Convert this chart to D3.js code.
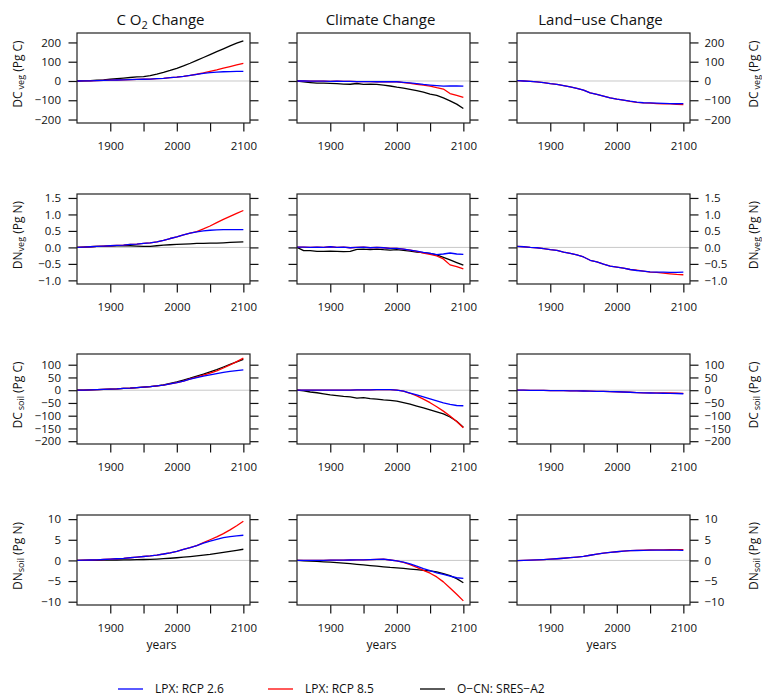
<!DOCTYPE html>
<html>
<head>
<meta charset="utf-8">
<script src="https://cdn.jsdelivr.net/npm/d3@7"></script>
<style>
  body { margin: 0; background: #fff; }
  text { font-family: "Open Sans", "Noto Sans", sans-serif; fill: #111; }
</style>
</head>
<body>
<div id="chart"></div>
<script>
// years of the model output (every 10 yr)
const years = [1850, 1860, 1870, 1880, 1890, 1900, 1910, 1920, 1930, 1940, 1950, 1960, 1970,
  1980, 1990, 2000, 2010, 2020, 2030, 2040, 2050, 2060, 2070, 2080, 2090, 2100]

const columnTitles = ["CO2", "Climate Change", "Land\u2212use Change"]
const rowLabels = [["DC", "veg", "(Pg C)"], ["DN", "veg", "(Pg N)"], ["DC", "soil", "(Pg C)"], ["DN", "soil", "(Pg N)"]]
const rowDomains = [[-218, 249], [-1.11, 1.62], [-211, 142], [-10.8, 11]]
const rowTicks = [[-200, -100, 0, 100, 200], [-1, -0.5, 0, 0.5, 1, 1.5],
  [-200, -150, -100, -50, 0, 50, 100], [-10, -5, 0, 5, 10]]
const xTicks = [1900, 1950, 2000, 2050, 2100]
const xLabels = [1900, 2000, 2100]
const legendLabels = ["LPX: RCP 2.6", "LPX: RCP 8.5", "O\u2212CN: SRES\u2212A2"]

// row 1: vegetation carbon
const cvegCO2_26 = [0, 0.5, 1, 2, 3, 4, 5, 6, 7, 8, 9, 10, 12, 14, 17, 20, 24, 29, 34, 39, 43, 46, 48, 49, 50, 50]
const cvegCO2_85 = [0, 0.5, 1, 2, 3, 4, 5, 6, 7, 8, 9, 10, 12, 14, 17, 20, 24, 29, 35, 42, 50, 58, 67, 75, 83, 91]
const cvegCO2_ocn = [0, 1, 2, 4, 6, 9, 12, 15, 18, 21, 23, 28, 36, 45, 55, 66, 78, 92, 107, 122, 137, 152, 167, 182, 196, 208]
const cvegCLI_26 = [0, 0, -1, -1, -1, -2, -1, -2, -2, -3, -3, -3, -4, -4, -4, -4, -7, -10, -14, -18, -21, -24, -27, -26, -25, -27]
const cvegCLI_85 = [0, 0, -1, -1, -1, -2, -1, -2, -2, -3, -3, -3, -4, -4, -4, -4, -8, -12, -17, -22, -27, -35, -42, -65, -75, -85]
const cvegCLI_ocn = [0, -5, -8, -11, -11, -12, -14, -16, -17, -13, -18, -17, -18, -21, -26, -32, -37, -43, -50, -58, -68, -75, -88, -103, -120, -143]
const cvegLUC_26 = [2, 0, -2, -5, -9, -14, -18, -24, -31, -38, -47, -62, -70, -78, -88, -94, -99, -105, -110, -113, -114, -115, -116, -117, -118, -117]
const cvegLUC_85 = [2, 0, -2, -5, -9, -14, -18, -24, -31, -38, -47, -62, -70, -78, -88, -94, -99, -106, -111, -114, -115, -117, -118, -119, -121, -122]

// row 2: vegetation nitrogen
const nvegCO2_26 = [0, 0.01, 0.02, 0.03, 0.04, 0.05, 0.06, 0.07, 0.09, 0.10, 0.12, 0.14, 0.17, 0.21, 0.27, 0.32, 0.38, 0.43, 0.47, 0.50, 0.52, 0.53, 0.54, 0.54, 0.54, 0.54]
const nvegCO2_85 = [0, 0.01, 0.02, 0.03, 0.04, 0.05, 0.06, 0.07, 0.09, 0.10, 0.12, 0.14, 0.17, 0.21, 0.27, 0.32, 0.38, 0.43, 0.48, 0.56, 0.65, 0.75, 0.85, 0.94, 1.03, 1.12]
const nvegCO2_ocn = [0, 0.01, 0.02, 0.03, 0.03, 0.04, 0.05, 0.05, 0.05, 0.04, 0.03, 0.03, 0.05, 0.07, 0.08, 0.09, 0.10, 0.11, 0.12, 0.12, 0.13, 0.13, 0.14, 0.15, 0.16, 0.17]
const nvegCLI_26 = [0.01, 0.01, 0, 0.01, 0, 0.02, 0, 0.01, -0.01, 0, 0.01, -0.01, 0, -0.01, -0.03, -0.03, -0.05, -0.08, -0.11, -0.15, -0.18, -0.22, -0.20, -0.17, -0.20, -0.21]
const nvegCLI_85 = [0.01, 0.01, 0, 0.01, 0, 0.02, 0, 0.01, -0.01, 0, 0.01, -0.01, 0, -0.01, -0.03, -0.03, -0.05, -0.08, -0.12, -0.17, -0.21, -0.26, -0.35, -0.53, -0.58, -0.65]
const nvegCLI_ocn = [0, -0.10, -0.10, -0.12, -0.12, -0.11, -0.12, -0.13, -0.12, -0.06, -0.05, -0.07, -0.05, -0.07, -0.08, -0.07, -0.09, -0.11, -0.14, -0.16, -0.18, -0.23, -0.30, -0.38, -0.46, -0.54]
const nvegLUC_26 = [0.03, 0.02, 0, -0.01, -0.04, -0.07, -0.09, -0.14, -0.18, -0.23, -0.29, -0.39, -0.44, -0.51, -0.57, -0.60, -0.63, -0.67, -0.70, -0.72, -0.74, -0.75, -0.75, -0.76, -0.76, -0.75]
const nvegLUC_85 = [0.03, 0.02, 0, -0.01, -0.04, -0.07, -0.09, -0.14, -0.18, -0.23, -0.29, -0.39, -0.44, -0.51, -0.57, -0.60, -0.63, -0.67, -0.69, -0.72, -0.75, -0.76, -0.78, -0.80, -0.82, -0.83]

// row 3: soil carbon
const csoilCO2_26 = [0, 0.5, 1, 2, 3, 4, 5, 7, 8, 10, 12, 14, 17, 20, 25, 30, 36, 43, 49, 55, 60, 65, 70, 74, 77, 80]
const csoilCO2_85 = [0, 0.5, 1, 2, 3, 4, 5, 7, 8, 10, 12, 14, 17, 20, 25, 30, 36, 44, 51, 59, 67, 76, 87, 99, 112, 126]
const csoilCO2_ocn = [0, 0, 1, 2, 3, 4, 5, 7, 8, 10, 12, 14, 17, 21, 27, 33, 40, 47, 55, 63, 72, 81, 91, 101, 111, 121]
const csoilCLI_26 = [0, 0, 0, 0, 0, 0, 0, 0, 0, 1, 1, 1, 2, 2, 2, 0, -4, -11, -18, -26, -34, -42, -50, -56, -60, -61]
const csoilCLI_85 = [0, 0, 0, 0, 0, 0, 0, 0, 0, 1, 1, 1, 2, 2, 2, 0, -4, -12, -22, -35, -49, -65, -82, -101, -123, -147]
const csoilCLI_ocn = [0, -3, -7, -10, -14, -18, -21, -24, -26, -31, -29, -33, -35, -38, -40, -43, -49, -55, -62, -69, -77, -85, -93, -105, -122, -145]
const csoilLUC_26 = [0, 0, -0.3, -0.6, -1, -1.3, -1.6, -2, -2.4, -2.8, -3.2, -3.7, -4.2, -4.8, -5.4, -6, -7, -8, -9.5, -10.5, -11, -11.5, -12, -12.5, -13, -14]
const csoilLUC_85 = [0, 0, -0.3, -0.6, -1, -1.3, -1.6, -2, -2.4, -2.8, -3.2, -3.7, -4.2, -4.8, -5.4, -6, -7, -8, -9.5, -10.5, -10.5, -10.5, -10.8, -11, -11.5, -12.5]

// row 4: soil nitrogen
const nsoilCO2_26 = [0, 0.05, 0.1, 0.15, 0.22, 0.3, 0.4, 0.5, 0.65, 0.8, 0.95, 1.1, 1.3, 1.55, 1.85, 2.2, 2.65, 3.1, 3.6, 4.2, 4.7, 5.1, 5.5, 5.75, 5.95, 6.1]
const nsoilCO2_85 = [0, 0.05, 0.1, 0.15, 0.22, 0.3, 0.4, 0.5, 0.65, 0.8, 0.95, 1.1, 1.3, 1.55, 1.85, 2.2, 2.65, 3.1, 3.6, 4.3, 5.0, 5.7, 6.5, 7.4, 8.4, 9.5]
const nsoilCO2_ocn = [0, 0, 0.02, 0.04, 0.06, 0.08, 0.1, 0.12, 0.15, 0.18, 0.22, 0.27, 0.33, 0.42, 0.52, 0.64, 0.78, 0.94, 1.1, 1.28, 1.46, 1.7, 1.95, 2.2, 2.45, 2.7]
const nsoilCLI_26 = [0, 0, 0, 0, 0.02, 0.05, 0.05, 0.05, 0.1, 0.12, 0.15, 0.2, 0.25, 0.3, 0.1, -0.1, -0.4, -0.85, -1.4, -2.0, -2.5, -3.0, -3.4, -3.8, -4.2, -4.35]
const nsoilCLI_85 = [0, 0, 0, 0, 0.02, 0.05, 0.05, 0.05, 0.1, 0.12, 0.15, 0.2, 0.25, 0.3, 0.1, -0.1, -0.45, -1.0, -1.7, -2.4, -3.1, -4.0, -5.2, -6.7, -8.2, -9.8]
const nsoilCLI_ocn = [0, -0.08, -0.16, -0.25, -0.33, -0.42, -0.55, -0.68, -0.8, -0.95, -1.1, -1.25, -1.4, -1.55, -1.7, -1.8, -1.95, -2.1, -2.25, -2.4, -2.55, -2.8, -3.2, -3.7, -4.4, -5.4]
const nsoilLUC_26 = [-0.05, 0, 0.05, 0.12, 0.2, 0.3, 0.4, 0.52, 0.66, 0.82, 1.0, 1.25, 1.5, 1.75, 1.95, 2.1, 2.25, 2.35, 2.4, 2.45, 2.48, 2.5, 2.5, 2.5, 2.48, 2.45]
const nsoilLUC_85 = [-0.05, 0, 0.05, 0.12, 0.2, 0.3, 0.4, 0.52, 0.66, 0.82, 1.0, 1.25, 1.5, 1.75, 1.95, 2.1, 2.25, 2.35, 2.42, 2.48, 2.52, 2.55, 2.57, 2.58, 2.6, 2.6]

// [row][column] -> [rcp26, rcp85, ocn]
const panels = [
  [[cvegCO2_26, cvegCO2_85, cvegCO2_ocn], [cvegCLI_26, cvegCLI_85, cvegCLI_ocn], [cvegLUC_26, cvegLUC_85, null]],
  [[nvegCO2_26, nvegCO2_85, nvegCO2_ocn], [nvegCLI_26, nvegCLI_85, nvegCLI_ocn], [nvegLUC_26, nvegLUC_85, null]],
  [[csoilCO2_26, csoilCO2_85, csoilCO2_ocn], [csoilCLI_26, csoilCLI_85, csoilCLI_ocn], [csoilLUC_26, csoilLUC_85, null]],
  [[nsoilCO2_26, nsoilCO2_85, nsoilCO2_ocn], [nsoilCLI_26, nsoilCLI_85, nsoilCLI_ocn], [nsoilLUC_26, nsoilLUC_85, null]],
]
const seriesColors = ["#0000ff", "#ff0000", "#000000"]

// dimensions
const width = 762
const height = 697
const colX = [77, 297, 517]
const rowY = [33, 194, 354, 515]
const pw = 173
const ph = 90
const tickLen = 8.5

const svg = d3.select("#chart").append("svg")
  .attr("width", width)
  .attr("height", height)

const xScale = d3.scaleLinear().domain([1850, 2110]).range([0, pw])
const minus = s => s.replace("-", "\u2212")
const fmtRow = [d => minus(d3.format("d")(d)), d => minus(d3.format(".1f")(d)),
  d => minus(d3.format("d")(d)), d => minus(d3.format("d")(d))]

// column titles
columnTitles.forEach((t, c) => {
  const txt = svg.append("text")
    .attr("x", colX[c] + pw / 2 - 3)
    .attr("y", 25)
    .attr("text-anchor", "middle")
    .style("font-size", "15px")
  if (t === "CO2") {
    txt.append("tspan").text("C O")
    txt.append("tspan").text("2").attr("dy", 4).style("font-size", "11px")
    txt.append("tspan").text(" Change").attr("dy", -4)
  } else {
    txt.text(t)
  }
})

function yLabel(x, yc, parts) {
  const txt = svg.append("text")
    .attr("transform", `translate(${x}, ${yc}) rotate(-90)`)
    .attr("text-anchor", "middle")
    .attr("dominant-baseline", "central")
    .style("font-size", "12px")
  txt.append("tspan").text(parts[0])
  txt.append("tspan").text(parts[1]).attr("dy", 3).attr("dx", parts[0] === "DC" ? 2 : 0).style("font-size", "9px")
  txt.append("tspan").text(" " + parts[2]).attr("dy", -3)
}

panels.forEach((row, r) => {
  const yScale = d3.scaleLinear().domain(rowDomains[r]).range([ph, 0])
  const line = d3.line()
    .x((d, i) => xScale(years[i]))
    .y(d => yScale(d))

  row.forEach((series, c) => {
    const g = svg.append("g")
      .attr("transform", `translate(${colX[c]}, ${rowY[r]})`)

    // zero reference
    g.append("line")
      .attr("x1", 0).attr("x2", pw)
      .attr("y1", yScale(0)).attr("y2", yScale(0))
      .attr("stroke", "#c8c8c8")
      .attr("stroke-width", 1)

    // lines: black, red, blue
    ;[2, 1, 0].forEach(k => {
      if (!series[k]) return
      g.append("path")
        .datum(series[k])
        .attr("d", line)
        .attr("fill", "none")
        .attr("stroke", seriesColors[k])
        .attr("stroke-width", 1.3)
        .attr("stroke-linejoin", "round")
    })

    // axes
    const xAxis = g.append("g")
      .attr("transform", `translate(0, ${ph})`)
      .call(d3.axisBottom(xScale).tickValues(xTicks).tickSize(tickLen).tickPadding(10)
        .tickFormat(d => xLabels.includes(d) ? d : ""))
    const yLeft = g.append("g")
      .call(d3.axisLeft(yScale).tickValues(rowTicks[r]).tickSize(tickLen).tickPadding(7.5)
        .tickFormat(c === 0 ? fmtRow[r] : ""))
    const yRight = g.append("g")
      .attr("transform", `translate(${pw}, 0)`)
      .call(d3.axisRight(yScale).tickValues(rowTicks[r]).tickSize(tickLen).tickPadding(6)
        .tickFormat(c === 2 ? fmtRow[r] : ""))
    ;[xAxis, yLeft, yRight].forEach(a => {
      a.select(".domain").remove()
      a.selectAll(".tick line").attr("stroke", "#111").attr("stroke-width", 1.2)
      a.selectAll(".tick text")
        .style("font-family", '"Open Sans", sans-serif')
        .style("font-size", "11.5px")
        .attr("fill", "#111")
    })

    // frame
    g.append("rect")
      .attr("width", pw).attr("height", ph)
      .attr("fill", "none")
      .attr("stroke", "#222")
      .attr("stroke-width", 1.2)

    if (r === 3) {
      g.append("text")
        .attr("x", pw / 2 - 2)
        .attr("y", ph + 44)
        .attr("text-anchor", "middle")
        .style("font-size", "12px")
        .text("years")
    }
  })

  yLabel(17, rowY[r] + ph / 2 - 4, rowLabels[r])
  yLabel(753, rowY[r] + ph / 2 - 4, rowLabels[r])
})

// legend
const legendX = [118, 268, 420]
legendLabels.forEach((label, i) => {
  svg.append("line")
    .attr("x1", legendX[i]).attr("x2", legendX[i] + 25)
    .attr("y1", 689).attr("y2", 689)
    .attr("stroke", seriesColors[i])
    .attr("stroke-width", 1.3)
  svg.append("text")
    .attr("x", legendX[i] + 37)
    .attr("y", 693)
    .style("font-size", "12px")
    .text(label)
})
</script>
</body>
</html>
